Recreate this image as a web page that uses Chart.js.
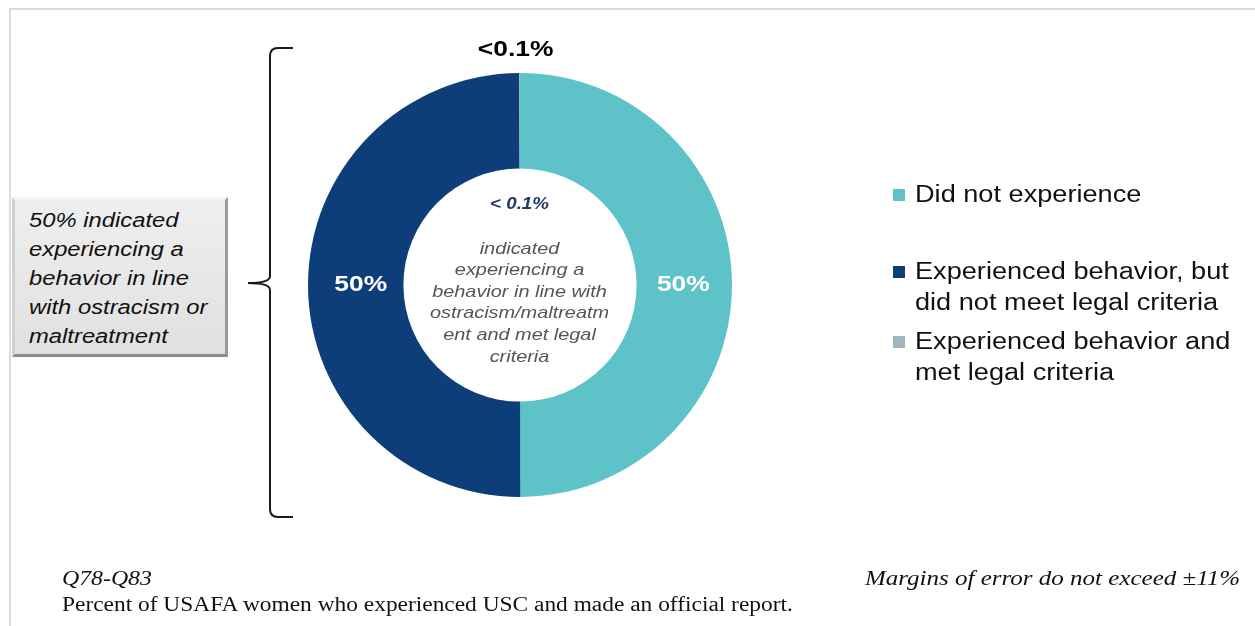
<!DOCTYPE html>
<html>
<head>
<meta charset="utf-8">
<script src="https://cdn.jsdelivr.net/npm/chart.js@4/dist/chart.umd.min.js"></script>
<style>
  html, body { margin: 0; padding: 0; background: #fff; }
  #wrap { position: relative; width: 1255px; height: 626px; overflow: hidden; font-family: "Liberation Sans", Arial, sans-serif; }
  #chart { position: absolute; left: 0; top: 0; }
  .frame { position: absolute; left: 9px; top: 8px; width: 1400px; height: 700px; border-top: 2px solid #dcdcdc; border-left: 2px solid #dcdcdc; }
  .sx { display: inline-block; transform: scaleX(1.19); transform-origin: left top; white-space: nowrap; }
  .box { position: absolute; left: 12px; top: 197px; width: 216px; height: 160px; box-sizing: border-box;
         background: linear-gradient(#efefef, #e0e0e0); border: 3px solid; border-color: #f4f4f4 #9a9a9a #8c8c8c #d0d0d0;
         padding: 6px 0 0 14px; font-style: italic; font-size: 20px; line-height: 29px; color: #111; }
  .center { position: absolute; left: 420px; top: 193px; width: 200px; text-align: center; font-style: italic; color: #555; font-size: 17px; line-height: 21.6px; }
  .center .sx { transform-origin: center top; transform: scaleX(1.17); }
  .center .pct { color: #1f3864; font-weight: bold; font-size: 16px; margin-bottom: 23px; }
  .legend { position: absolute; left: 893px; top: 0; font-size: 23px; color: #111; line-height: 31px; }
  .legend .item { position: absolute; left: 0; white-space: nowrap; }
  .legend .sw { position: absolute; left: 0; top: 10px; width: 12px; height: 12px; }
  .legend .txt { position: absolute; left: 22px; top: 0; }
  .foot { position: absolute; font-family: "Liberation Serif", "Times New Roman", serif; font-size: 20px; color: #111; white-space: nowrap; }
</style>
</head>
<body>
<div id="wrap">
  <div class="frame"></div>
  <canvas id="chart" width="1255" height="626"></canvas>
  <div class="box"><span class="sx">50% indicated<br>experiencing a<br>behavior in line<br>with ostracism or<br>maltreatment</span></div>
  <div class="center"><span class="sx"><div class="pct">&lt; 0.1%</div>indicated<br>experiencing a<br>behavior in line with<br>ostracism/maltreatm<br>ent and met legal<br>criteria</span></div>
  <div class="legend" id="legend"></div>
  <div class="foot" style="left:62px; top:567px; font-style:italic;"><span class="sx">Q78-Q83</span></div>
  <div class="foot" style="left:62px; top:593px;"><span class="sx" style="transform:scaleX(1.17)">Percent of USAFA women who experienced USC and made an official report.</span></div>
  <div class="foot" style="right:15px; top:567px; font-style:italic;"><span class="sx" style="transform:scaleX(1.25); transform-origin:right top;">Margins of error do not exceed ±11%</span></div>
</div>
<script>
const categories = ['Did not experience', 'Experienced behavior, but did not meet legal criteria', 'Experienced behavior and met legal criteria'];
const legendLines = [['Did not experience'], ['Experienced behavior, but', 'did not meet legal criteria'], ['Experienced behavior and', 'met legal criteria']];
const values = [50, 50, 0.05];
const valueLabels = ['50%', '50%', '<0.1%'];
const colors = ['#5ec2c9', '#0d3e7a', '#9fb7be'];

// html legend
const legendTops = [179, 256, 326];
const legend = document.getElementById('legend');
legendLines.forEach((lines, i) => {
  const it = document.createElement('div');
  it.className = 'item';
  it.style.top = legendTops[i] + 'px';
  it.innerHTML = '<div class="sw" style="background:' + colors[i] + '"></div><div class="txt"><span class="sx" style="transform:scaleX(1.18)">' + lines.join('<br>') + '</span></div>';
  legend.appendChild(it);
});

function stretchedText(ctx, text, x, y, sx) {
  ctx.save();
  ctx.translate(x, y);
  ctx.scale(sx, 1);
  ctx.fillText(text, 0, 0);
  ctx.restore();
}

const labelPlugin = {
  id: 'labels',
  afterDatasetsDraw(chart) {
    const ctx = chart.ctx;
    const meta = chart.getDatasetMeta(0);
    ctx.save();
    ctx.textAlign = 'center';
    ctx.textBaseline = 'middle';
    ctx.font = 'bold 22px "Liberation Sans", Arial';
    meta.data.forEach((arc, i) => {
      if (i < 2) {
        const p = arc.tooltipPosition();
        ctx.fillStyle = '#ffffff';
        stretchedText(ctx, valueLabels[i], p.x + (i === 1 ? 5 : -1), p.y, 1.2);
      } else {
        const mid = (arc.startAngle + arc.endAngle) / 2;
        const r = arc.outerRadius + 23;
        ctx.fillStyle = '#000000';
        stretchedText(ctx, valueLabels[i], arc.x + Math.cos(mid) * r - 4, arc.y + Math.sin(mid) * r, 1.2);
      }
    });
    // brace on the left
    ctx.strokeStyle = '#1a1a1a';
    ctx.lineWidth = 2;
    ctx.beginPath();
    ctx.moveTo(293, 48);
    ctx.lineTo(278, 48);
    ctx.quadraticCurveTo(270, 48, 270, 56);
    ctx.lineTo(270, 276);
    ctx.quadraticCurveTo(270, 283, 248, 283);
    ctx.quadraticCurveTo(270, 283, 270, 290);
    ctx.lineTo(270, 509);
    ctx.quadraticCurveTo(270, 517, 278, 517);
    ctx.lineTo(293, 517);
    ctx.stroke();
    ctx.restore();
  }
};

new Chart(document.getElementById('chart'), {
  type: 'doughnut',
  data: {
    labels: categories,
    datasets: [{
      data: values,
      backgroundColor: colors,
      borderWidth: 0
    }]
  },
  options: {
    responsive: false,
    animation: false,
    cutout: '55%',
    layout: { padding: { left: 308, right: 523, top: 73, bottom: 129 } },
    plugins: {
      legend: { display: false },
      tooltip: { enabled: false }
    }
  },
  plugins: [labelPlugin]
});
</script>
</body>
</html>
